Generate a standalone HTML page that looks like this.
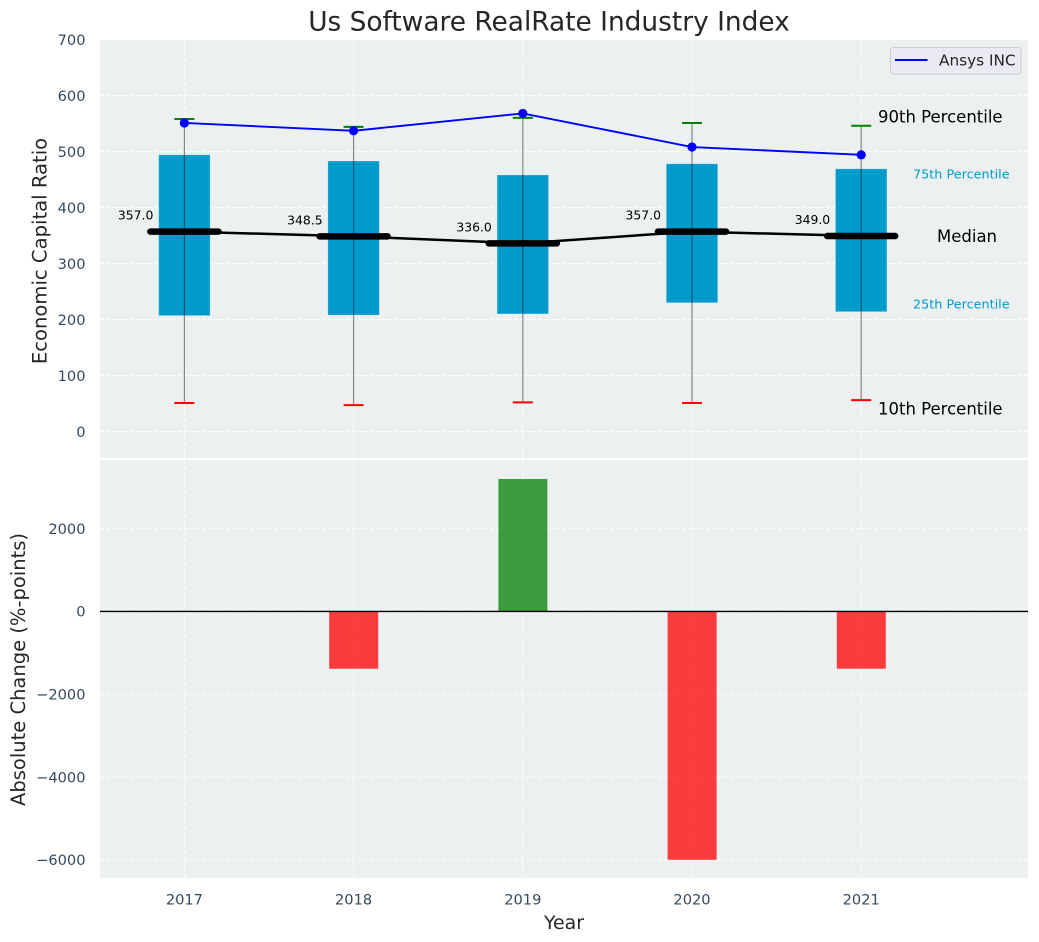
<!DOCTYPE html>
<html lang="en">
<head>
<meta charset="utf-8">
<title>Us Software RealRate Industry Index</title>
<style>
html,body{margin:0;padding:0;background:#fff;width:1039px;height:942px;overflow:hidden}
svg{display:block;font-family:"DejaVu Sans","Liberation Sans",sans-serif}
</style>
</head>
<body>
<svg id="chart" xmlns="http://www.w3.org/2000/svg" width="1039" height="942" viewBox="0 0 1039 942"></svg>
<script>
const years = [2017, 2018, 2019, 2020, 2021];
const p90 = [558, 544, 560, 551, 546];
const p75 = [494, 483, 458, 478, 469];
const median = [357, 348.5, 336, 357, 349];
const p25 = [207, 208, 210, 230, 214];
const p10 = [51, 47, 52, 51, 56];
const ansys = [551, 537, 568, 508, 494];
const changes = [0, -1385, 3198, -6000, -1385];
const topTicks = [0, 100, 200, 300, 400, 500, 600, 700];
const bottomTicks = [-6000, -4000, -2000, 0, 2000];

const svg = document.getElementById('chart');
const NS = 'http://www.w3.org/2000/svg';
const L = 100, R = 1028, TT = 40, TB = 458, BT = 460, BB = 878;

function xS(v) { return 184.4 + (v - 2017) * 169.2; }
function yTop(v) { return 431.5 - v * 0.56; }
function yBot(v) { return 611.4 - v * 0.0414; }

function mk(tag, attrs, parent) {
  const e = document.createElementNS(NS, tag);
  for (const k in attrs) e.setAttribute(k, attrs[k]);
  (parent || svg).appendChild(e);
  return e;
}
function txt(s, x, y, size, fill, anchor, parent) {
  const e = mk('text', {x: x, y: y, 'font-size': size, fill: fill, 'text-anchor': anchor || 'start', 'dominant-baseline': 'central'}, parent);
  e.textContent = s;
  return e;
}
const GRID = {stroke: '#ffffff', 'stroke-width': 1, 'stroke-dasharray': '4 2', 'stroke-opacity': 0.85};
const TICK = '#34495e';
const INK = '#262626';

// panels
const topPanel = mk('rect', {x: L, y: TT, width: R - L, height: TB - TT, fill: '#ecf0f1'});


const botPanel = mk('rect', {x: L, y: BT, width: R - L, height: BB - BT, fill: '#ecf0f1'});



// grids and tick labels
topTicks.forEach(function (t) {
  const y = yTop(t);
  const g = mk('line', Object.assign({x1: L, x2: R, y1: y, y2: y}, GRID));
  
  
  const l = txt(String(t), 85.5, y + 0.8, 14.6, TICK, 'end');
  
  
});
bottomTicks.forEach(function (t) {
  const y = yBot(t);
  const g = mk('line', Object.assign({x1: L, x2: R, y1: y, y2: y}, GRID));
  
  
  const l = txt(String(t).replace('-', '\u2212'), 85.5, y + 0.8, 14.6, TICK, 'end');
  
  
});
years.forEach(function (yr) {
  const x = xS(yr);
  const g1 = mk('line', Object.assign({x1: x, x2: x, y1: TT, y2: TB}, GRID));
  
  
  const g2 = mk('line', Object.assign({x1: x, x2: x, y1: BT, y2: BB}, GRID));
  
  
  const l = txt(String(yr), x, 900, 14.6, TICK, 'middle');
  
  
});

// boxes
years.forEach(function (yr, i) {
  const x = xS(yr);
  const box = mk('rect', {x: x - 25.7, y: yTop(p75[i]), width: 51.4, height: yTop(p25[i]) - yTop(p75[i]), fill: '#009ACD', stroke: '#ffffff', 'stroke-opacity': 0.2, 'stroke-width': 1});
  
  
  const w = mk('line', {x1: x, x2: x, y1: yTop(p10[i]), y2: yTop(p90[i]), stroke: '#000', 'stroke-opacity': 0.45, 'stroke-width': 1.2});
  
  
  const cHi = mk('line', {x1: x - 10, x2: x + 10, y1: yTop(p90[i]), y2: yTop(p90[i]), stroke: '#008000', 'stroke-width': 2});
  
  
  const cLo = mk('line', {x1: x - 10, x2: x + 10, y1: yTop(p10[i]), y2: yTop(p10[i]), stroke: '#ff0000', 'stroke-width': 2});
  
  
});

// median connecting line
const medLine = mk('polyline', {points: years.map(function (yr, i) { return xS(yr) + ',' + yTop(median[i]); }).join(' '), fill: 'none', stroke: '#000', 'stroke-width': 2.5});



years.forEach(function (yr, i) {
  const x = xS(yr), y = yTop(median[i]);
  const m = mk('line', {x1: x - 34, x2: x + 34, y1: y, y2: y, stroke: '#000', 'stroke-width': 6.5, 'stroke-linecap': 'round'});
  
  
  const l = txt(median[i].toFixed(1), x - 31, y - 16.5, 12.4, '#000', 'end');
  
  
});

// Ansys series
const ansysLine = mk('polyline', {points: years.map(function (yr, i) { return xS(yr) + ',' + yTop(ansys[i]); }).join(' '), fill: 'none', stroke: '#0000ff', 'stroke-width': 1.9});


years.forEach(function (yr, i) {
  const p = mk('circle', {cx: xS(yr), cy: yTop(ansys[i]), r: 4.6, fill: '#0000ff'});
  
  
});

// annotations
const a90 = txt('90th Percentile', 878, 117, 16.5, '#000');


const a75 = txt('75th Percentile', 913, 175, 12.8, '#009ACD');


const aMed = txt('Median', 937, 236.5, 16.5, '#000');


const a25 = txt('25th Percentile', 913, 305, 12.8, '#009ACD');


const a10 = txt('10th Percentile', 878, 409, 16.5, '#000');



// legend
const legend = mk('g', {});


mk('rect', {x: 890.5, y: 47.5, width: 130.5, height: 26.5, rx: 3, fill: '#eaeaf2', stroke: '#cccccc', 'stroke-width': 1}, legend);
mk('line', {x1: 895, x2: 927.5, y1: 60, y2: 60, stroke: '#0000ff', 'stroke-width': 1.9}, legend);
txt('Ansys INC', 939, 60.5, 15.3, INK, 'start', legend);

// change bars
years.forEach(function (yr, i) {
  if (changes[i] === 0) return;
  const x = xS(yr) + 0.1;
  const y0 = yBot(0), y1 = yBot(changes[i]);
  const bar = mk('rect', {x: x - 24.5, y: Math.min(y0, y1), width: 49, height: Math.abs(y1 - y0), fill: changes[i] > 0 ? '#008000' : '#ff0000', 'fill-opacity': 0.75});
  
  
});
const zero = mk('line', {x1: L, x2: R, y1: yBot(0), y2: yBot(0), stroke: '#000', 'stroke-width': 1.4});



// titles
const title = txt('Us Software RealRate Industry Index', 549, 22, 26.4, INK, 'middle');


const xTitle = txt('Year', 564, 923, 18.9, INK, 'middle');


const yTitle1 = txt('Economic Capital Ratio', 0, 0, 19.6, INK, 'middle');
yTitle1.setAttribute('transform', 'translate(40,251) rotate(-90)');


const yTitle2 = txt('Absolute Change (%-points)', 0, 0, 19.5, INK, 'middle');
yTitle2.setAttribute('transform', 'translate(18.5,669.5) rotate(-90)');


</script>
</body>
</html>
